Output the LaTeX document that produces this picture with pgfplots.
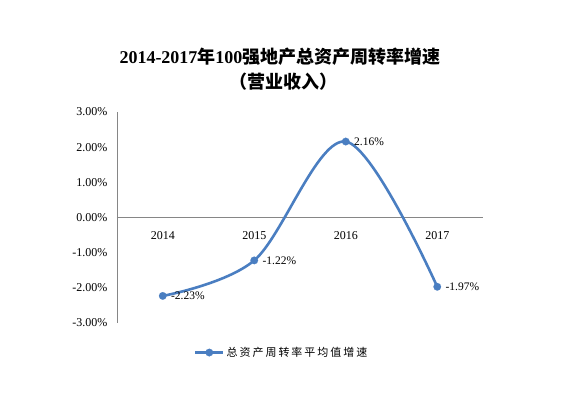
\documentclass[border=0pt]{standalone}
\usepackage{pgfplots}
\pgfplotsset{compat=1.18}
\usetikzlibrary{calc}
\usepackage{fontspec}
\setmainfont{Liberation Serif}
\newfontfamily\cjk{Noto Sans CJK SC}
\newfontfamily\cjkls[LetterSpace=18]{Noto Sans CJK SC}
\definecolor{lineblue}{RGB}{74,126,193}
\definecolor{axisgray}{RGB}{134,134,134}
\begin{document}
\begin{tikzpicture}
\begin{axis}[
  scale only axis, width=366pt, height=211pt,
  xmin=-0.5, xmax=3.5, ymin=-3, ymax=3,
  axis x line=middle, axis y line=left,
  axis line style={-, draw=axisgray, line width=0.8pt},
  xtick={0,1,2,3}, xticklabels={2014,2015,2016,2017},
  ytick={-3,-2,-1,0,1,2,3},
  hide obscured x ticks=false, hide obscured y ticks=false,
  major tick length=0pt,
  /pgf/number format/assume math mode=true,
  yticklabel={\pgfmathprintnumber[fixed,fixed zerofill,precision=2]{\tick}\%},
  tick label style={font=\fontsize{12}{13}\selectfont},
  xticklabel style={yshift=-10pt},
  yticklabel style={xshift=-6pt},
  clip=false,
  legend style={at={(0.45,-0.14)}, anchor=center, draw=none, fill=none,
    font=\cjkls\fontsize{11}{13}\selectfont},
  legend image code/.code={\draw[mark repeat=2,mark phase=2,#1] plot coordinates {(0pt,0pt) (14pt,0pt) (28pt,0pt)};},
]
\addplot[color=lineblue, line width=2.6pt, smooth, tension=0.55,
  mark=*, mark size=3.8pt, mark options={fill=lineblue, draw=lineblue, line width=0.1pt},
  nodes near coords={\pgfmathprintnumber[fixed,fixed zerofill,precision=2]{\pgfplotspointmeta}\%},
  nodes near coords style={anchor=west, xshift=5pt, text=black, font=\fontsize{11.5}{13}\selectfont},
  point meta=y]
  coordinates {(0,-2.23) (1,-1.22) (2,2.16) (3,-1.97)};
\addlegendentry{总资产周转率平均值增速}
\coordinate (bl) at (rel axis cs:0,0);
\end{axis}
\path ($(bl)+(-117pt,-72pt)$) rectangle ++(577pt,395pt);
\node[font=\fontsize{18}{20}\selectfont\bfseries] at ($(bl)+(163pt,266pt)$) {2014-2017{\cjk 年}100{\cjk 强地产总资产周转率增速}};
\node[font=\fontsize{18}{20}\selectfont\bfseries\cjk] at ($(bl)+(166pt,241pt)$) {（营业收入）};
\end{tikzpicture}
\end{document}
